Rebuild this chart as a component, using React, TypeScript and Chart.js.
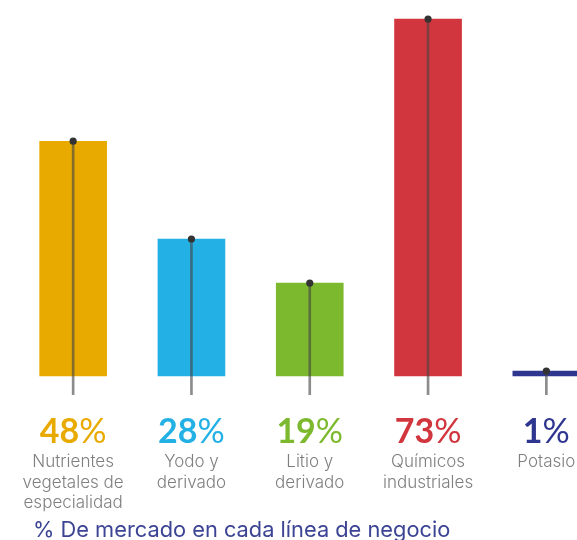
import React, { useEffect, useRef } from "react";
import { Chart, registerables } from "chart.js";

Chart.register(...registerables);

const categories: string[][] = [
  ["Nutrientes", "vegetales de", "especialidad"],
  ["Yodo y", "derivado"],
  ["Litio y", "derivado"],
  ["Químicos", "industriales"],
  ["Potasio"],
];
const shares = [48, 28, 19, 73, 1];
const colors = ["#E9AA00", "#23B1E5", "#7DB92E", "#D1353D", "#2F368F"];
const stemBottom = -3.9;
const titleText = "% De mercado en cada línea de negocio";

const FONT = "Lato, 'DejaVu Sans', sans-serif";
const TFONT = "Inter, 'DejaVu Sans', sans-serif";

const labelsPlugin = {
  id: "labelsPlugin",
  afterDraw(chart: any) {
    const ctx = chart.ctx as CanvasRenderingContext2D;
    const xs = chart.scales.x;
    ctx.save();
    ctx.textBaseline = "alphabetic";
    shares.forEach((v, i) => {
      const cx = xs.getPixelForValue(i);
      const num = String(v);
      ctx.font = `bold 34px ${FONT}`;
      const wNum = ctx.measureText(num).width;
      ctx.font = `34px ${FONT}`;
      const wPct = ctx.measureText("%").width;
      const start = cx - (wNum + wPct) / 2;
      ctx.fillStyle = colors[i];
      ctx.textAlign = "left";
      ctx.font = `bold 34px ${FONT}`;
      ctx.fillText(num, start, 443);
      ctx.font = `34px ${FONT}`;
      ctx.fillText("%", start + wNum, 443);
      ctx.font = `300 17px ${TFONT}`;
      ctx.fillStyle = "#7f7f7f";
      ctx.textAlign = "center";
      categories[i].forEach((line, j) => {
        ctx.fillText(line, cx, 467 + j * 20.5);
      });
    });
    ctx.font = `21.8px ${TFONT}`;
    ctx.fillStyle = "#3C4494";
    ctx.textAlign = "left";
    ctx.fillText(titleText, 33, 537);
    ctx.restore();
  },
};

export default function App() {
  const ref = useRef<HTMLCanvasElement>(null);
  useEffect(() => {
    document.body.style.margin = "0";
    const chart = new Chart(ref.current!, {
      type: "bar",
      data: {
        labels: categories.map((c) => c.join(" ")),
        datasets: [
          {
            type: "line",
            data: shares,
            showLine: false,
            pointRadius: 3.6,
            pointHoverRadius: 3.6,
            pointBackgroundColor: "#333333",
            pointBorderWidth: 0,
            order: 1,
          } as any,
          {
            data: shares.map((v) => [stemBottom, v]),
            backgroundColor: "rgba(70,70,70,0.62)",
            barThickness: 2,
            grouped: false,
            order: 2,
          } as any,
          {
            data: shares,
            backgroundColor: colors,
            barThickness: 67,
            grouped: false,
            order: 3,
          } as any,
        ],
      },
      options: {
        animation: false,
        responsive: false,
        events: [],
        layout: { padding: { left: 14, right: 14.5, top: 9.2, bottom: 145 } },
        plugins: { legend: { display: false }, tooltip: { enabled: false } },
        scales: {
          x: { display: false, offset: true },
          y: { display: false, min: stemBottom, max: 75 },
        },
      },
      plugins: [labelsPlugin],
    });
    return () => chart.destroy();
  }, []);
  return (
    <div style={{ position: "fixed", left: 0, top: 0, width: 577, height: 540, overflow: "hidden", background: "#fff" }}>
      <canvas ref={ref} width={620} height={540} style={{ width: 620, height: 540, display: "block" }} />
    </div>
  );
}
